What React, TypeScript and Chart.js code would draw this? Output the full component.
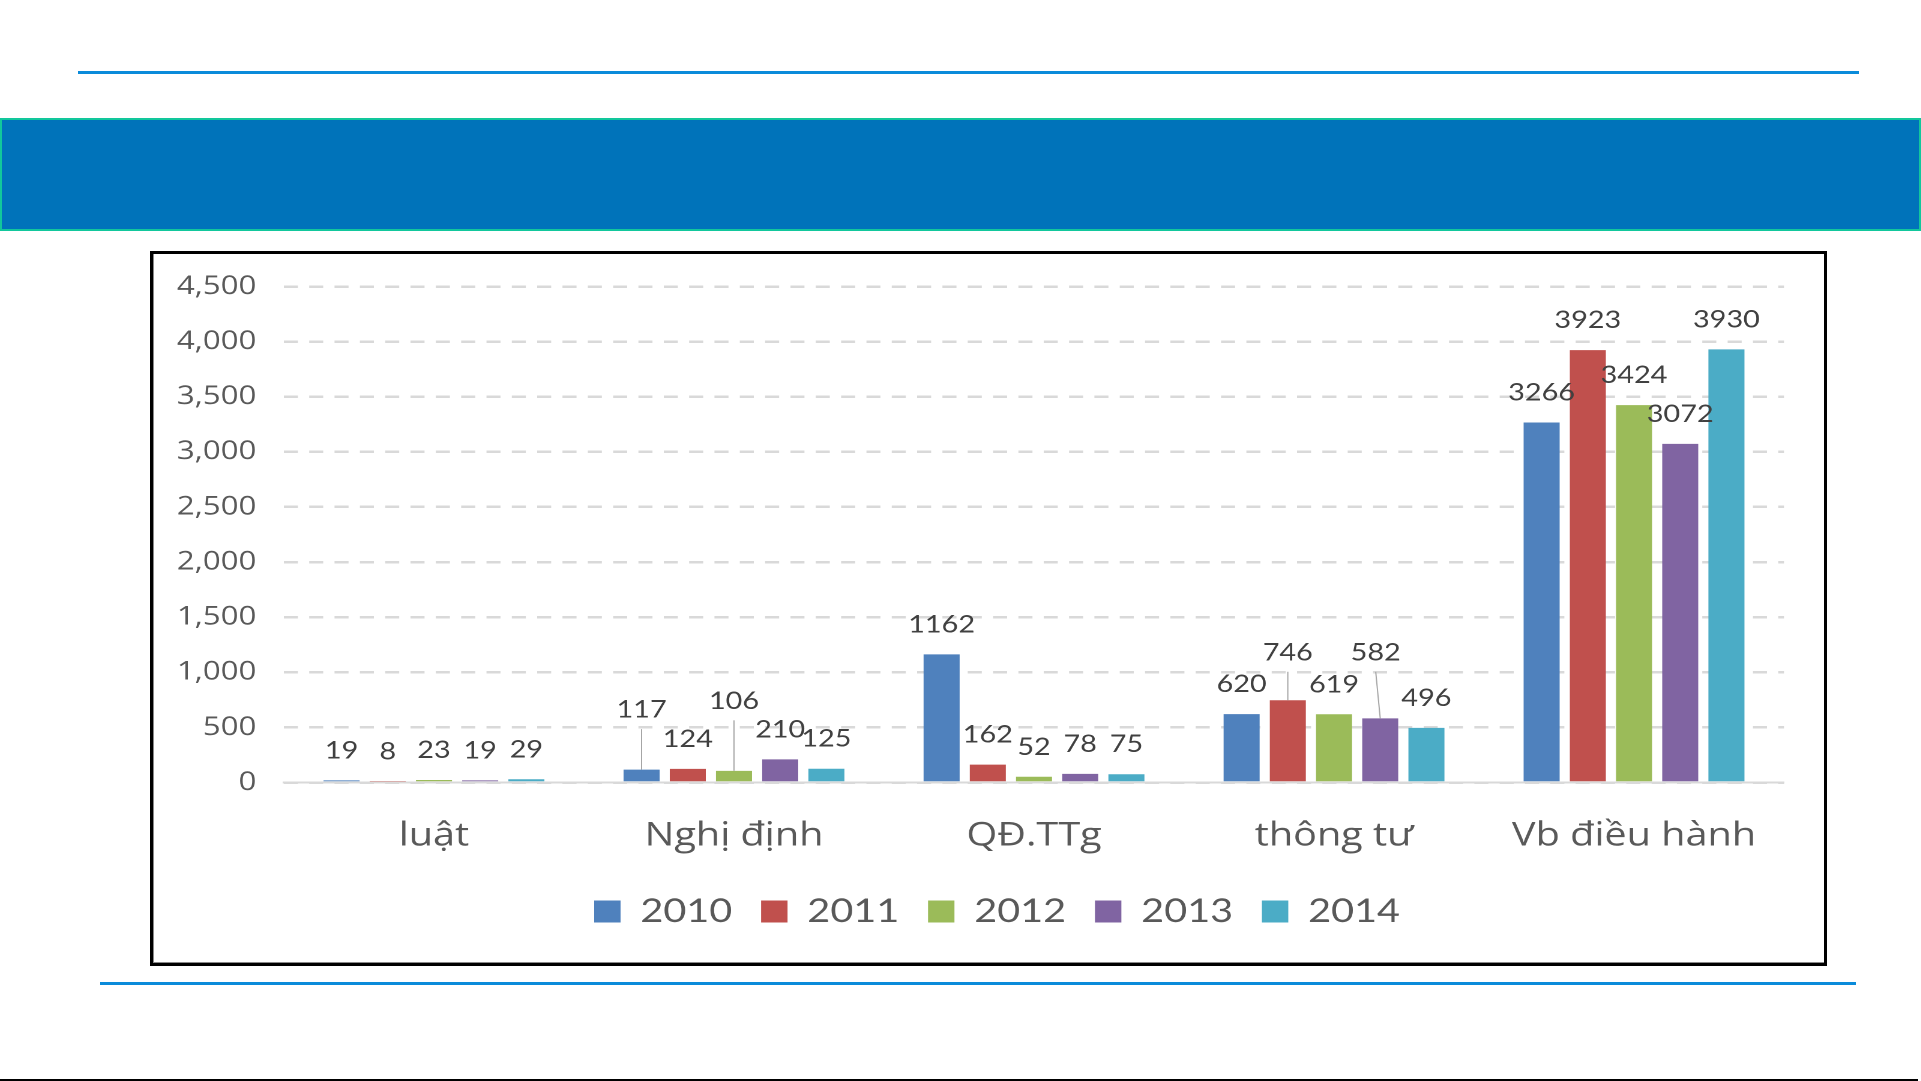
import React, { useEffect, useRef } from 'react';
import { Chart, registerables } from 'chart.js';

Chart.register(...registerables);

// ---- data ----
const categories = ['luật', 'Nghị định', 'QĐ.TTg', 'thông tư', 'Vb điều hành'];
const seriesNames = ['2010', '2011', '2012', '2013', '2014'];
const values2010 = [19, 117, 1162, 620, 3266];
const values2011 = [8, 124, 162, 746, 3923];
const values2012 = [23, 106, 52, 619, 3424];
const values2013 = [19, 210, 78, 582, 3072];
const values2014 = [29, 125, 75, 496, 3930];
const seriesValues = [values2010, values2011, values2012, values2013, values2014];
const seriesColors = ['#4F81BD', '#C0504D', '#9BBB59', '#8064A2', '#4BACC6'];
const yMin = 0;
const yMax = 4500;
const yStep = 500;

// ---- layout (canvas units) ----
const CANVAS_W = 1392;
const CANVAS_H = 709;
const INNER_W = 1671;
const STRETCH = INNER_W / CANVAS_W;

// label displacement for labels moved off their bars (dx, lift), keyed "series-category"
const labelLift: Record<string, [number, number]> = {
  '0-1': [0, 30],
  '2-1': [0, 40],
  '1-3': [0, 18],
  '3-3': [-3.75, 36],
};

const valueLabels = {
  id: 'valueLabels',
  afterDatasetsDraw(chart: any) {
    const ctx = chart.ctx;
    ctx.save();
    ctx.font = '24px Lato';
    ctx.textAlign = 'center';
    ctx.textBaseline = 'alphabetic';
    chart.data.datasets.forEach((ds: any, di: number) => {
      const meta = chart.getDatasetMeta(di);
      meta.data.forEach((bar: any, i: number) => {
        const lift = labelLift[`${di}-${i}`];
        const dx = lift ? lift[0] : 0;
        const dy = lift ? lift[1] : 0;
        const x = bar.x + dx;
        const base = bar.y - 22 - dy;
        if (lift) {
          ctx.strokeStyle = '#A6A6A6';
          ctx.lineWidth = 1;
          ctx.beginPath();
          ctx.moveTo(x, base + 11.5);
          ctx.lineTo(bar.x, bar.y);
          ctx.stroke();
        }
        ctx.fillStyle = '#404040';
        ctx.fillText(String(ds.data[i]), x, base);
      });
    });
    ctx.restore();
  },
};

const legendShift = {
  id: 'legendShift',
  afterLayout(chart: any) {
    if (chart.legend) {
      chart.legend.left += 14;
      chart.legend.right += 14;
    }
  },
};

function BarChart() {
  const ref = useRef<HTMLCanvasElement | null>(null);
  useEffect(() => {
    if (!ref.current) return;
    const chart = new Chart(ref.current, {
      type: 'bar',
      data: {
        labels: categories,
        datasets: seriesNames.map((name, k) => ({
          label: name,
          data: seriesValues[k],
          backgroundColor: seriesColors[k],
          borderWidth: 0,
          barPercentage: 0.78,
          categoryPercentage: 0.77,
        })),
      },
      options: {
        animation: false,
        responsive: false,
        devicePixelRatio: 2,
        locale: 'en-US',
        layout: { padding: { left: 19.6, right: 33.3, top: 32.5, bottom: 25 } },
        plugins: {
          legend: {
            position: 'bottom',
            labels: {
              font: { family: 'Lato', size: 33 },
              color: '#595959',
              boxWidth: 22,
              boxHeight: 22,
              padding: 24,
            },
          },
          tooltip: { enabled: false },
        },
        scales: {
          x: {
            grid: { display: false },
            border: { display: true, color: '#D9D9D9', width: 2 },
            ticks: { font: { family: 'Open Sans', size: 33 }, color: '#595959', padding: 26 },
            afterFit: (s: any) => {
              s.height = 88.5;
            },
          },
          y: {
            min: yMin,
            max: yMax,
            ticks: {
              stepSize: yStep,
              font: { family: 'Open Sans', size: 26 },
              color: '#595959',
              padding: 23,
            },
            grid: { color: '#D9D9D9', lineWidth: 2.5, drawTicks: false },
            border: { display: false, dash: [11.7, 9.4] },
            afterFit: (s: any) => {
              s.width = 89.5;
              s.paddingTop = 0;
              s.paddingBottom = 0;
            },
          },
        },
      },
      plugins: [valueLabels, legendShift],
    } as any);
    return () => chart.destroy();
  }, []);
  return (
    <div
      style={{
        position: 'absolute',
        left: 0,
        top: 0,
        width: CANVAS_W,
        height: CANVAS_H,
        transform: `scaleX(${STRETCH})`,
        transformOrigin: '0 0',
      }}
    >
      <canvas ref={ref} width={CANVAS_W} height={CANVAS_H} style={{ display: 'block' }} />
    </div>
  );
}

export default function App() {
  return (
    <div
      style={{
        position: 'fixed',
        left: 0,
        top: 0,
        width: 1921,
        height: 1081,
        background: '#FFFFFF',
        overflow: 'hidden',
      }}
    >
      <div style={{ position: 'absolute', left: 78, top: 71, width: 1781, height: 3, background: '#0A8BDA' }} />
      <div
        style={{
          position: 'absolute',
          left: 0,
          top: 118,
          width: 1921,
          height: 113,
          boxSizing: 'border-box',
          background: '#0073BA',
          border: '2px solid #12C79C',
        }}
      />
      <div
        style={{
          position: 'absolute',
          left: 150,
          top: 251,
          width: 1677,
          height: 715,
          boxSizing: 'border-box',
          border: '3px solid #000000',
          boxShadow: 'inset 1px -1px 0 #8A8A8A',
          background: '#FFFFFF',
        }}
      >
        <BarChart />
      </div>
      <div style={{ position: 'absolute', left: 100, top: 982, width: 1756, height: 3, background: '#0A8BDA' }} />
      <div style={{ position: 'absolute', left: 0, top: 1079, width: 1918, height: 2, background: '#000000' }} />
    </div>
  );
}
